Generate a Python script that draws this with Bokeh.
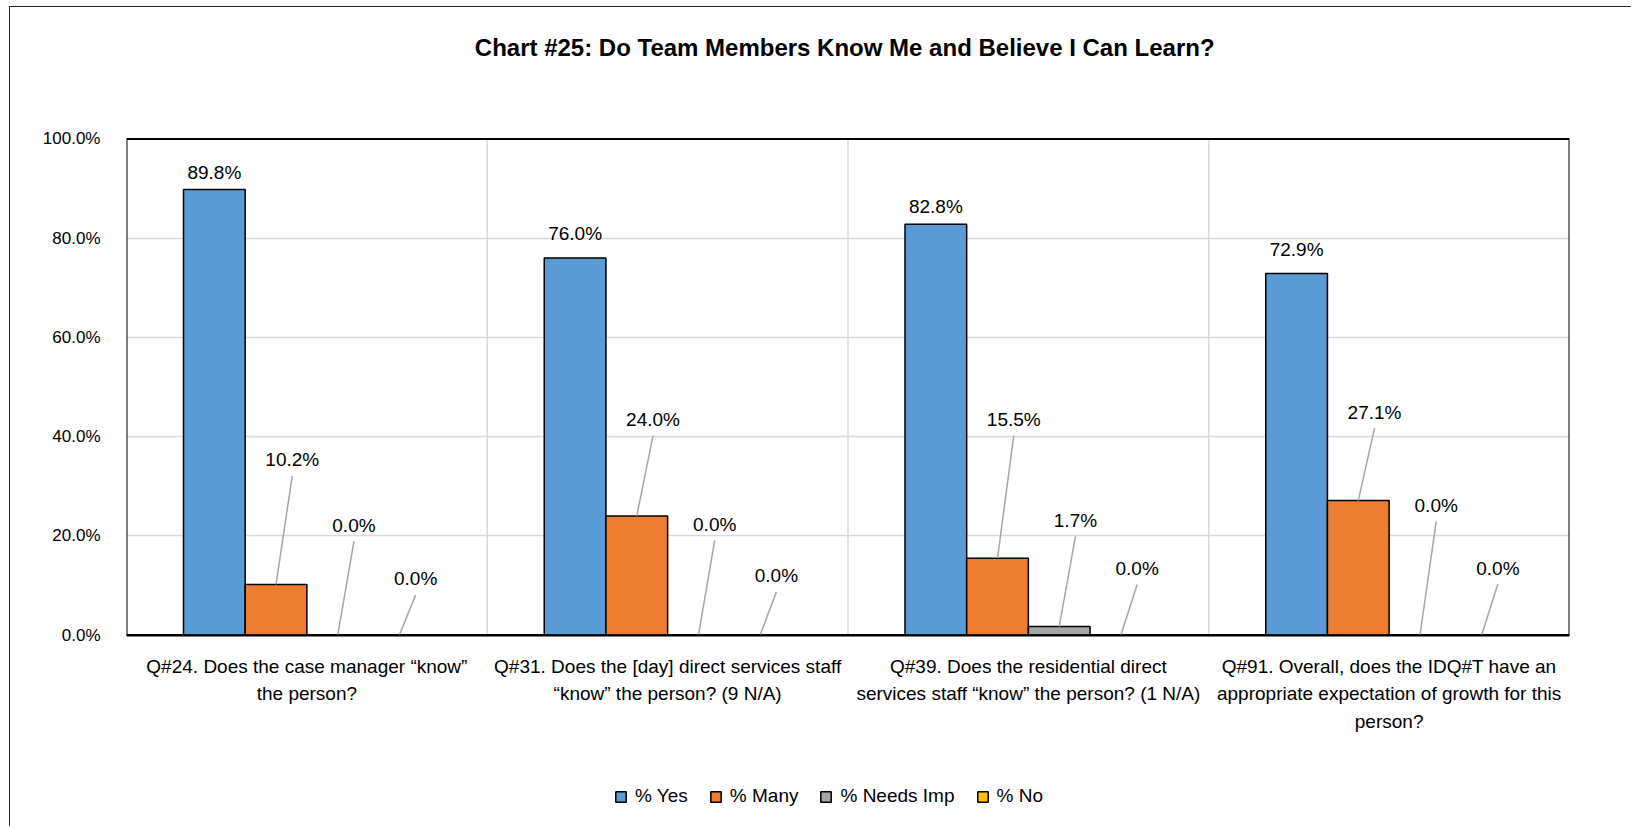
from bokeh.plotting import figure
from bokeh.models import (FixedTicker, PrintfTickFormatter, Legend, LegendItem, Label)
from bokeh.embed import file_html
from bokeh.resources import INLINE
from bokeh.core.properties import value

# ---------------- data ----------------
chart_title = "Chart #25:  Do Team Members Know Me and Believe I Can Learn?"
questions = [
    "Q#24. Does the case manager \u201cknow\u201d\nthe person?",
    "Q#31. Does the [day] direct services staff\n\u201cknow\u201d the person? (9 N/A)",
    "Q#39. Does the residential direct\nservices staff \u201cknow\u201d the person? (1 N/A)",
    "Q#91. Overall, does the IDQ#T have an\nappropriate expectation of growth for this\nperson?",
]
series_names = ["% Yes", "% Many", "% Needs Imp", "% No"]
pct_yes = [89.8, 76.0, 82.8, 72.9]
pct_many = [10.2, 24.0, 15.5, 27.1]
pct_needs_imp = [0.0, 0.0, 1.7, 0.0]
pct_no = [0.0, 0.0, 0.0, 0.0]
y_tick_values = [0, 20, 40, 60, 80, 100]

# ------------- layout / style -------------
series_colors = ["#5B9BD5", "#ED7D31", "#A5A5A5", "#FFC000"]
label_y_yes = [93.3, 81.0, 86.4, 77.8]
label_y_many = [35.3, 43.4, 43.4, 44.9]
label_y_needs = [22.1, 22.3, 23.1, 26.1]
label_y_no = [11.3, 11.9, 13.4, 13.5]
BAR_W = 0.171
LABEL_DX = 0.045
LEADER_GAP = 3.2
FONT = "Liberation Sans"
# the frame spans the whole canvas height so that the title and legend
# (drawn inside it) are not clipped; the value axis only covers 0..100
Y_RANGE = (-38.8, 126.5)

n = len(questions)
W, H = 1622, 820
p = figure(width=W, height=H, x_range=(0, n), y_range=Y_RANGE,
           output_backend="svg", toolbar_location=None, title=None,
           min_border_left=116, min_border_right=63,
           min_border_top=0, min_border_bottom=0)
p.styles = {"border-left": "1.5px solid #262626", "border-top": "1.5px solid #262626",
            "margin-left": "9px", "margin-top": "6px"}
p.background_fill_color = "white"
p.border_fill_color = "white"
p.outline_line_color = None

# grids
p.xgrid.visible = False
p.ygrid.ticker = FixedTicker(ticks=y_tick_values[1:-1])
p.ygrid.grid_line_color = "#d9d9d9"
p.ygrid.grid_line_width = 1.5
bounds = list(range(1, n))
p.segment(x0=bounds, y0=[y_tick_values[0]] * len(bounds), x1=bounds,
          y1=[y_tick_values[-1]] * len(bounds), line_color="#d9d9d9", line_width=1.5)

# plot-area box
p.quad(left=[0], right=[n], bottom=[y_tick_values[0]], top=[y_tick_values[-1]],
       fill_color=None, line_color="black", line_width=2)

# axes
xa = p.xaxis[0]
xa.fixed_location = 0
xa.ticker = FixedTicker(ticks=[i + 0.5 for i in range(n)])
xa.major_label_overrides = {i + 0.5: q for i, q in enumerate(questions)}
xa.major_label_text_font = FONT
xa.major_label_text_font_size = "19px"
xa.major_label_text_line_height = 1.3
xa.major_label_text_color = "black"
xa.major_label_standoff = 15
xa.major_tick_line_color = None
xa.minor_tick_line_color = None
xa.axis_line_color = "black"
xa.axis_line_width = 2

ya = p.yaxis[0]
ya.bounds = (y_tick_values[0], y_tick_values[-1])
ya.ticker = FixedTicker(ticks=y_tick_values)
ya.formatter = PrintfTickFormatter(format="%.1f%%")
ya.major_label_text_font = FONT
ya.major_label_text_font_size = "17px"
ya.major_label_text_color = "black"
ya.major_label_standoff = 20
ya.major_tick_line_color = None
ya.minor_tick_line_color = None
ya.axis_line_color = None

# bars, labels, leaders
all_vals = [pct_yes, pct_many, pct_needs_imp, pct_no]
all_label_y = [label_y_yes, label_y_many, label_y_needs, label_y_no]
renderers = []
for k, (vals, color) in enumerate(zip(all_vals, series_colors)):
    xs = [i + 0.5 + (k - 1.5) * BAR_W for i in range(n)]
    r = p.vbar(x=xs, top=vals, width=BAR_W, bottom=0, fill_color=color,
               line_color="black", line_width=1.5)
    renderers.append(r)
    texts = [f"{v:.1f}%" for v in vals]
    if k == 0:
        lx = xs
    else:
        lx = [x + LABEL_DX for x in xs]
        p.segment(x0=xs, y0=vals, x1=lx,
                  y1=[ly - LEADER_GAP for ly in all_label_y[k]],
                  line_color="#a6a6a6", line_width=1.5)
    p.text(x=lx, y=all_label_y[k], text=texts, text_font=value(FONT),
           text_font_size="19px", text_align="center", text_baseline="middle",
           text_color="black")

legend = Legend(items=[LegendItem(label=s, renderers=[r]) for s, r in zip(series_names, renderers)],
                orientation="horizontal", location=(488, 20),
                label_text_font=FONT, label_text_font_size="19px",
                label_text_color="black",
                glyph_width=13, glyph_height=13, label_standoff=8, spacing=21,
                padding=0, margin=0, border_line_color=None,
                background_fill_alpha=0)
p.add_layout(legend)

p.add_layout(Label(x=n / 2, y=y_tick_values[-1], y_offset=91, text=chart_title,
                   text_align="center", text_baseline="middle",
                   text_font=FONT, text_font_size="24px", text_font_style="bold",
                   text_color="black"))

open("out.html", "w").write(file_html(p, INLINE))
